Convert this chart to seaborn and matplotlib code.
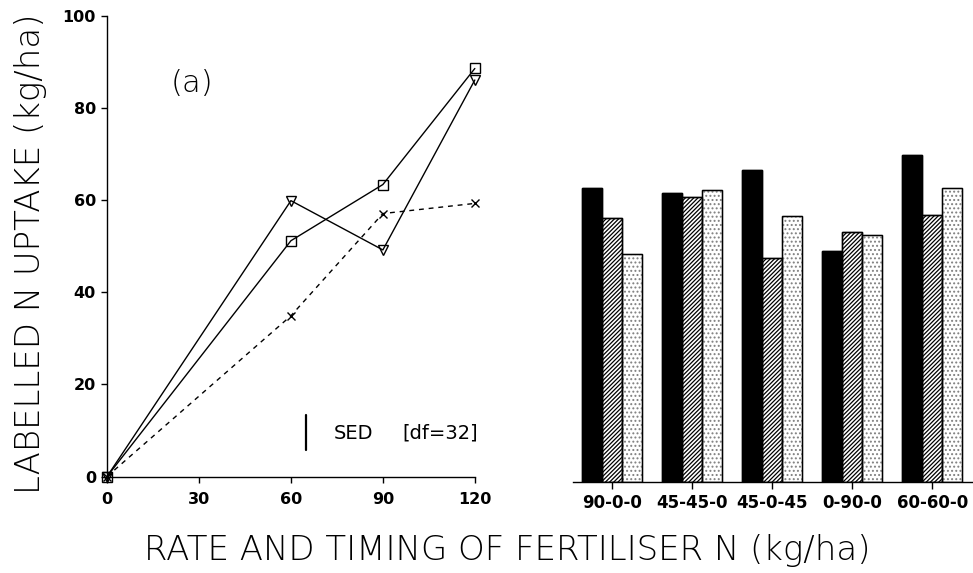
import matplotlib
matplotlib.use("Agg")
import matplotlib.pyplot as plt
import seaborn as sns
import pandas as pd

# ---- data ----
rates = [0, 60, 90, 120]
series_square = [0, 51.2, 63.4, 88.6]
series_triangle = [0, 59.9, 49.2, 86.1]
series_cross = [0, 34.9, 57.1, 59.3]

treatments = ["90-0-0", "45-45-0", "45-0-45", "0-90-0", "60-60-0"]
bar_black = [63.8, 62.7, 67.7, 50.2, 70.9]
bar_hatched = [57.3, 61.9, 48.6, 54.3, 57.9]
bar_dotted = [49.4, 63.3, 57.8, 53.6, 63.8]

y_ticks = [0, 20, 40, 60, 80, 100]
x_ticks = [0, 30, 60, 90, 120]

sns.set_theme(style="white")
plt.rcParams["font.family"] = ["DejaVu Sans"]
plt.rcParams["text.color"] = "black"
plt.rcParams["hatch.linewidth"] = 0.9

fig = plt.figure(figsize=(9.73, 5.73), dpi=100)
ax1 = fig.add_axes([0.110, 0.1684, 0.378, 0.8037])
ax2 = fig.add_axes([0.589, 0.1593, 0.4096, 0.8037])

# ---- left panel: lines ----
line_df = pd.DataFrame({
    "rate": rates * 3,
    "uptake": series_square + series_triangle + series_cross,
    "series": ["sq"] * 4 + ["tri"] * 4 + ["x"] * 4,
})
specs = {"sq": dict(marker="s", ls="-"),
         "tri": dict(marker="v", ls="-"),
         "x": dict(marker="x", ls=(0, (3.5, 3.5)))}
for name, sp in specs.items():
    sub = line_df[line_df["series"] == name]
    sns.lineplot(data=sub, x="rate", y="uptake", ax=ax1, color="black",
                 linewidth=1.0, linestyle=sp["ls"], marker=sp["marker"],
                 markersize=7 if sp["marker"] != "x" else 6,
                 markerfacecolor="none", markeredgecolor="black",
                 markeredgewidth=1.0, clip_on=False, zorder=3)

ax1.set_xlim(0, 120)
ax1.set_ylim(0, 100)
ax1.set_xticks(x_ticks)
ax1.set_yticks(y_ticks)
ax1.set_xlabel("")
ax1.set_ylabel("")
for s in ["top", "right"]:
    ax1.spines[s].set_visible(False)
for s in ["left", "bottom"]:
    ax1.spines[s].set_color("black")
    ax1.spines[s].set_linewidth(1.0)
ax1.tick_params(axis="both", which="major", direction="out", length=4,
                width=1.0, color="black", labelsize=11.5, labelcolor="black",
                left=True, bottom=True)
ax1.tick_params(axis="y", pad=4)
ax1.tick_params(axis="x", pad=7)
for lab in ax1.get_xticklabels() + ax1.get_yticklabels():
    lab.set_fontweight("bold")

# (a) label and SED bar
ax1.text(27.8, 85.4, "(a)", fontsize=22, fontweight="light",
         ha="center", va="center", color="black")
SED_X, SED_LO, SED_HI = 65, 5.8, 13.4
ax1.plot([SED_X, SED_X], [SED_LO, SED_HI], color="black", lw=1.6)
ax1.text(74, 9.4, "SED", fontsize=14, ha="left", va="center", color="black")
ax1.text(96.5, 9.4, "[df=32]", fontsize=14, ha="left", va="center",
         color="black")

# ---- right panel: bars ----
bar_df = pd.DataFrame({
    "treatment": treatments * 3,
    "uptake": bar_black + bar_hatched + bar_dotted,
    "timing": ["A"] * 5 + ["B"] * 5 + ["C"] * 5,
})
n = len(treatments)
# fill layer (carries hatching)
sns.barplot(data=bar_df, x="treatment", y="uptake", hue="timing",
            palette=["black", "white", "white"], edgecolor="black",
            linewidth=1.0, width=0.75, gap=0, legend=False, ax=ax2,
            saturation=1)
fill_patches = list(ax2.patches)
for i, p in enumerate(fill_patches[:3 * n]):
    grp = i // n
    if grp == 1:
        p.set_hatch("////////")
    elif grp == 2:
        p.set_hatch("....")
        p.set_edgecolor("0.5")
# outline layer
sns.barplot(data=bar_df, x="treatment", y="uptake", hue="timing",
            palette=["black", "white", "white"], edgecolor="black",
            linewidth=1.0, width=0.75, gap=0, legend=False, ax=ax2,
            saturation=1)
for p in ax2.patches[len(fill_patches):]:
    p.set_facecolor("none")
    p.set_edgecolor("black")
    p.set_zorder(5)

ax2.set_xlim(-0.49, 4.49)
ax2.set_ylim(0, 100)
ax2.set_yticks([])
ax2.set_xlabel("")
ax2.set_ylabel("")
for s in ["top", "right", "left"]:
    ax2.spines[s].set_visible(False)
ax2.spines["bottom"].set_color("black")
ax2.spines["bottom"].set_linewidth(1.0)
ax2.tick_params(axis="x", direction="out", length=5, width=1.0, color="black",
                labelsize=12, labelcolor="black", pad=4, bottom=True)
for lab in ax2.get_xticklabels():
    lab.set_fontweight("bold")

# ---- axis labels ----
fig.text(0.031, 0.558, "LABELLED N UPTAKE (kg/ha)", rotation=90,
         fontsize=24.5, fontweight="light", ha="center", va="center",
         color="black")
fig.text(0.5216, 0.040, "RATE AND TIMING OF FERTILISER N (kg/ha)",
         fontsize=24.5, fontweight="light", ha="center", va="center",
         color="black")

fig.savefig("out.png", dpi=100, facecolor="white")
